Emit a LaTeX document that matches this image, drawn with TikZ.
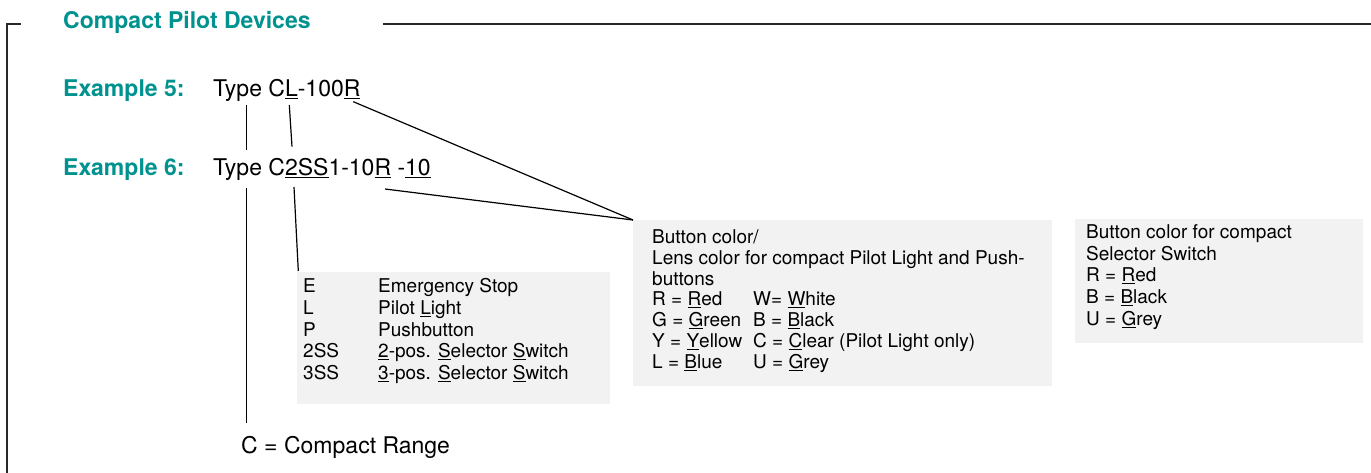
\documentclass[tikz,border=0pt]{standalone}
\usepackage{fontspec}
\setmainfont{TeX Gyre Heros}
\definecolor{teal1}{RGB}{0,146,143}
\definecolor{boxgrey}{RGB}{242,242,242}
\definecolor{framegrey}{RGB}{40,40,40}
\newsavebox\ulbox
\newcommand\ulc[1]{\sbox\ulbox{#1}\rlap{\rule[-0.12em]{\wd\ulbox}{0.055em}}\usebox\ulbox}
\tikzset{
  main/.style={anchor=base west, inner sep=0pt, font=\fontsize{23}{27}\selectfont},
  head/.style={anchor=base west, inner sep=0pt, text=teal1, font=\fontsize{23}{27}\selectfont\bfseries},
  small/.style={anchor=base west, inner sep=0pt, font=\fontsize{19}{22}\selectfont},
  infobox/.style={fill=boxgrey, draw=none},
  conn/.style={draw=black, line width=1.2pt},
  frameline/.style={draw=framegrey, line width=1.1pt}
}
\begin{document}
\begin{tikzpicture}[x=1pt,y=-1pt]
\useasboundingbox (0,0) rectangle (1371,473);
% frame
\draw[frameline] (20.7,24) -- (7,24) -- (7,474);
\draw[frameline] (383,24) -- (1372,24);
% boxes
\fill[infobox] (297,272) rectangle (610,403.5);
\fill[infobox] (633,220) rectangle (1052,386);
\fill[infobox] (1075,219.5) rectangle (1363,342.5);
% titles
\node[head] (title) at (63,28.3) {Compact Pilot Devices};
\node[head] (ex5) at (63,96.5) {Example 5:};
\node[head] (ex6) at (63,175.5) {Example 6:};
\node[main] (type5) at (213,96.5) {Type C\ulc{L}-100\ulc{R}};
\node[main] (type6) at (213,175.5) {Type C\ulc{2SS}1-10\ulc{R} -\ulc{10}};
\node[main] (crange) at (241,453) {C = Compact Range};
% box 1
\foreach \a/\b [count=\i from 0] in {E/Emergency Stop, L/Pilot \ulc{L}ight, P/Pushbutton, 2SS/\ulc{2}-pos. \ulc{S}elector \ulc{S}witch, 3SS/\ulc{3}-pos. \ulc{S}elector \ulc{S}witch}{
  \node[small] (ba\i) at (303,292.7+21.67*\i) {\a};
  \node[small] (bb\i) at (378,292.7+21.67*\i) {\b};
}
% box 2
\node[small] (c0) at (652,243.5) {Button color/};
\node[small] (c1) at (652,264.3) {Lens color for compact Pilot Light and Push-};
\node[small] (c2) at (652,285.1) {buttons};
\foreach \a/\b [count=\i from 3] in {R = \ulc{R}ed/W= \ulc{W}hite, G = \ulc{G}reen/B = \ulc{B}lack, Y = \ulc{Y}ellow/C = \ulc{C}lear (Pilot Light only), L = \ulc{B}lue/U = \ulc{G}rey}{
  \node[small] (ca\i) at (652,243.5+20.8*\i) {\a};
  \node[small] (cb\i) at (753,243.5+20.8*\i) {\b};
}
% box 3
\foreach \a [count=\i from 0] in {Button color for compact, Selector Switch, R = \ulc{R}ed, B = \ulc{B}lack, U = \ulc{G}rey}{
  \node[small] (d\i) at (1086,238.5+21.7*\i) {\a};
}
% connector points
\coordinate (t5a) at (246.7,105);
\coordinate (t6a) at (246.7,150);
\coordinate (l5) at (289.3,105);
\coordinate (s6) at (292,146.7);
\coordinate (r5) at (353.3,101.7);
\coordinate (hub) at (633,220);
\coordinate (r6) at (385,189);
\coordinate (t6b) at (246.7,188);
\coordinate (cr) at (246.7,422.7);
\coordinate (s6b) at (294,187);
\coordinate (box1) at (298.3,271);
% connectors
\draw[conn] (t5a) -- (t6a);
\draw[conn] (l5) -- (s6);
\draw[conn] (r5) -- (hub);
\draw[conn] (r6) -- (hub);
\draw[conn] (t6b) -- (cr);
\draw[conn] (s6b) -- (box1);
\end{tikzpicture}
\end{document}
